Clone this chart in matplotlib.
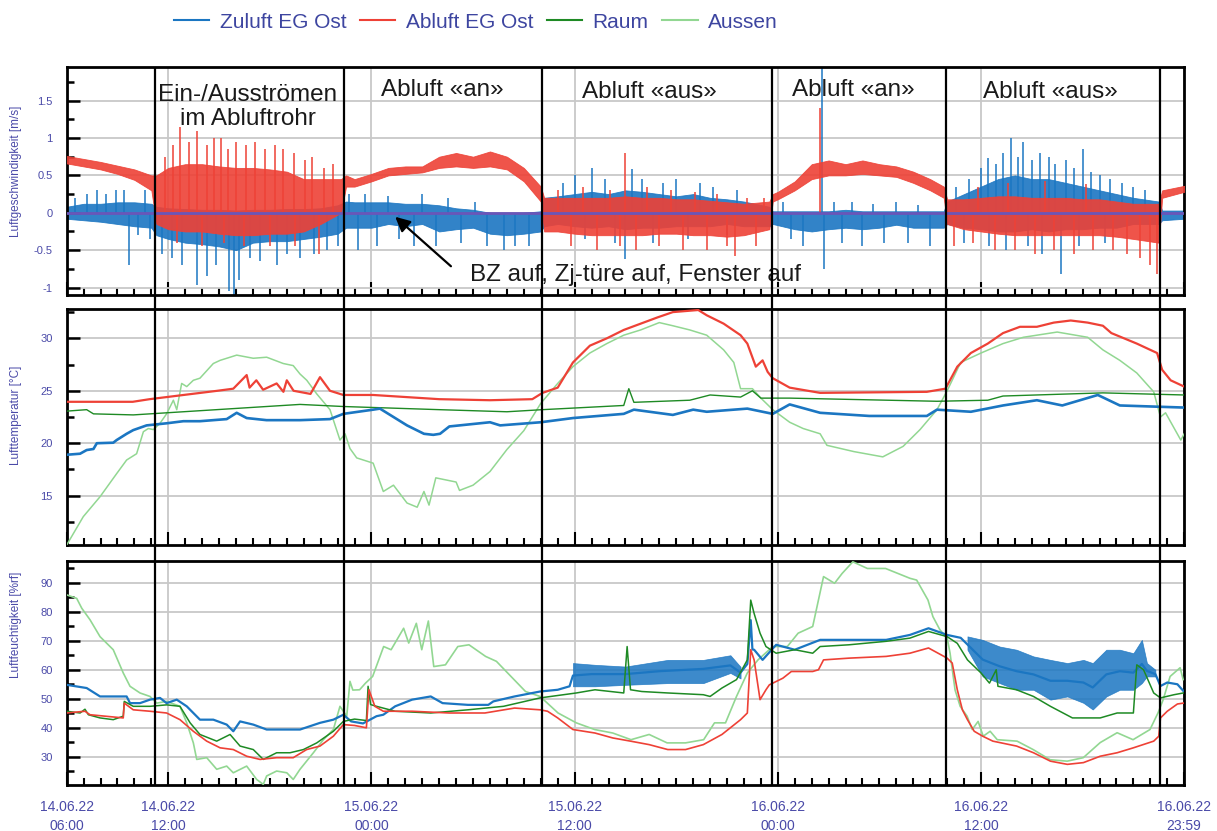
import numpy as np
import pandas as pd
import matplotlib
matplotlib.use("Agg")
import matplotlib.pyplot as plt
import matplotlib.dates as mdates
from matplotlib.lines import Line2D
from matplotlib.ticker import MultipleLocator, FuncFormatter

# time axis: hours after 14.06.22 06:00
START = pd.Timestamp("2022-06-14 06:00")
END = pd.Timestamp("2022-06-16 23:59")

series_names = ["Zuluft EG Ost", "Abluft EG Ost", "Raum", "Aussen"]
phase_changes = ["2022-06-14 11:14", "2022-06-14 22:24", "2022-06-15 10:05",
                 "2022-06-15 23:38", "2022-06-16 09:56", "2022-06-16 22:35"]
phase_labels = ["Ein-/Ausströmen\nim Abluftrohr", "Abluft «an»", "Abluft «aus»",
                "Abluft «an»", "Abluft «aus»"]
note_text = "BZ auf, Zj-türe auf, Fenster auf"

# air velocity [m/s]: (hour, low, high) of the dense part of the noisy signal
zuluft_v = [(0, -0.08, 0.08), (1, -0.1, 0.12), (2, -0.12, 0.12), (3, -0.15, 0.14), (4, -0.18, 0.14),
            (5, -0.2, 0.12), (5.3, -0.3, 0.08), (6, -0.35, 0.06), (7, -0.4, 0.05), (8, -0.42, 0.04),
            (9, -0.45, 0.04), (10, -0.5, 0.03), (11, -0.4, 0.04), (12, -0.38, 0.04), (13, -0.38, 0.05),
            (14, -0.35, 0.05), (15, -0.32, 0.06), (16, -0.28, 0.1), (16.5, -0.2, 0.15), (17, -0.2, 0.14),
            (18, -0.2, 0.14), (19, -0.15, 0.14), (20, -0.18, 0.12), (21, -0.15, 0.12), (22, -0.25, 0.1),
            (23, -0.22, 0.06), (24, -0.2, 0.04), (25, -0.28, 0.0), (26, -0.3, -0.02), (27, -0.28, 0.0),
            (28, -0.25, 0.02), (28.2, -0.18, 0.2), (29, -0.15, 0.22), (30, -0.18, 0.25), (31, -0.2, 0.28),
            (32, -0.18, 0.25), (33, -0.22, 0.3), (34, -0.2, 0.28), (35, -0.2, 0.25), (36, -0.18, 0.22),
            (37, -0.18, 0.25), (38, -0.18, 0.2), (39, -0.15, 0.18), (40, -0.18, 0.15), (41.5, -0.18, 0.08),
            (41.7, -0.15, 0.02), (43, -0.22, 0.02), (44, -0.25, 0.02), (45, -0.22, 0.02), (46, -0.2, 0.04),
            (47, -0.22, 0.02), (48, -0.2, 0.02), (49, -0.16, 0.02), (50, -0.2, 0.02), (51.8, -0.2, 0.02),
            (52, -0.15, 0.15), (53, -0.2, 0.25), (54, -0.22, 0.35), (55, -0.25, 0.45), (56, -0.25, 0.5),
            (57, -0.22, 0.45), (58, -0.25, 0.45), (59, -0.22, 0.4), (60, -0.22, 0.35), (61, -0.2, 0.3),
            (62, -0.2, 0.25), (63, -0.15, 0.2), (64.5, -0.15, 0.15), (64.7, -0.1, 0.03), (66, -0.08, 0.03)]
abluft_v = [(0, 0.66, 0.76), (1, 0.62, 0.72), (2, 0.58, 0.68), (3, 0.52, 0.63), (4, 0.44, 0.58),
            (5, 0.3, 0.5), (5.3, -0.15, 0.5), (6, -0.22, 0.6), (7, -0.25, 0.65), (8, -0.25, 0.65),
            (9, -0.28, 0.62), (10, -0.3, 0.6), (11, -0.3, 0.6), (12, -0.28, 0.58), (13, -0.28, 0.55),
            (14, -0.25, 0.45), (15, -0.15, 0.45), (16.2, 0.0, 0.45), (16.5, 0.35, 0.5), (17, 0.35, 0.45),
            (18, 0.42, 0.52), (19, 0.5, 0.6), (20, 0.52, 0.62), (21, 0.54, 0.62), (22, 0.6, 0.75),
            (23, 0.62, 0.8), (24, 0.6, 0.75), (25, 0.62, 0.82), (26, 0.58, 0.75), (27, 0.42, 0.6),
            (28, 0.15, 0.35), (28.2, -0.25, 0.2), (29, -0.25, 0.2), (30, -0.28, 0.2), (31, -0.3, 0.2),
            (32, -0.3, 0.2), (33, -0.3, 0.22), (34, -0.3, 0.2), (35, -0.28, 0.2), (36, -0.28, 0.18),
            (37, -0.3, 0.18), (38, -0.3, 0.16), (39, -0.32, 0.14), (40, -0.3, 0.12), (41.5, -0.22, 0.15),
            (41.7, 0.15, 0.25), (42, 0.18, 0.28), (43, 0.3, 0.42), (44, 0.45, 0.65), (45, 0.5, 0.7),
            (46, 0.5, 0.65), (47, 0.52, 0.7), (48, 0.5, 0.65), (49, 0.48, 0.62), (50, 0.4, 0.55),
            (51, 0.3, 0.45), (51.8, 0.2, 0.35), (52, -0.15, 0.18), (53, -0.22, 0.18), (54, -0.25, 0.2),
            (55, -0.28, 0.22), (56, -0.3, 0.22), (57, -0.3, 0.2), (58, -0.3, 0.2), (59, -0.3, 0.2),
            (60, -0.3, 0.18), (61, -0.3, 0.18), (62, -0.32, 0.15), (63, -0.35, 0.12), (64.5, -0.4, 0.12),
            (64.7, 0.2, 0.3), (66, 0.28, 0.36)]
# single peaks reaching beyond the dense part: (hour, value)
zuluft_v_peaks = [(0.5, 0.2), (1.2, 0.25), (1.8, 0.3), (2.3, 0.25), (2.9, 0.3), (3.4, 0.3), (3.7, -0.7),
                  (4.2, -0.3), (4.6, 0.3), (4.9, -0.35),
                  (5.6, -0.55), (6.2, -0.6), (6.8, -0.7), (7.7, -0.96), (8.3, -0.85), (8.8, -0.7),
                  (9.6, -1.05), (9.9, -1.15), (10.2, -0.9), (10.8, -0.6), (11.4, -0.65), (12.4, -0.7),
                  (13.0, -0.55), (13.8, -0.6), (14.6, -0.55), (15.4, -0.5), (16.0, -0.45),
                  (16.7, 0.25), (17.2, -0.5), (17.6, 0.25), (18.3, -0.45), (19.0, 0.22), (19.6, -0.35),
                  (20.5, -0.45), (21.0, 0.25), (21.8, -0.45), (22.5, 0.2), (23.3, -0.4), (24.1, 0.15),
                  (24.8, -0.45), (25.8, -0.5), (26.5, -0.45), (27.3, -0.45),
                  (29.3, 0.4), (30.0, 0.5), (30.6, -0.35), (31.0, 0.6), (31.8, 0.45), (32.4, -0.4),
                  (33.0, -0.62), (33.4, 0.58), (34.0, 0.45), (34.6, -0.4), (35.2, 0.4), (36.0, 0.45),
                  (36.7, -0.35), (37.4, 0.4), (38.2, 0.35), (39.0, -0.3), (39.6, 0.3),
                  (42.3, 0.15), (42.8, -0.35), (43.5, -0.45), (44.6, 2.0), (44.75, -0.75), (45.3, 0.15),
                  (45.8, -0.4), (46.4, 0.15), (47.0, -0.45), (47.6, 0.12), (48.3, -0.4), (49.0, 0.15),
                  (49.7, -0.4), (50.3, 0.1), (51.0, -0.45),
                  (52.5, 0.35), (53.0, -0.4), (53.3, 0.45), (54.0, 0.6), (54.4, 0.73), (54.5, -0.45),
                  (54.9, 0.65), (55.3, 0.8), (55.5, -0.5), (55.8, 1.0), (56.2, 0.75), (56.5, 0.95),
                  (56.8, -0.45), (57.0, 0.7), (57.5, 0.8), (57.6, -0.55), (58.0, 0.75), (58.4, 0.65),
                  (58.7, -0.82), (59.0, 0.7), (59.5, 0.6), (59.8, -0.45), (60.0, 0.85), (60.5, 0.55),
                  (61.0, 0.5), (61.3, -0.4), (61.6, 0.45), (62.3, 0.4), (63.0, 0.35), (63.7, 0.3)]
abluft_v_peaks = [(5.8, 0.75), (6.3, 0.9), (6.5, -0.4), (6.7, 1.15), (7.2, 0.95), (7.7, 1.1), (8.0, -0.45),
                  (8.3, 0.9), (8.7, 1.0), (9.1, 1.0), (9.3, -0.4), (9.5, 0.85), (10.0, 0.95), (10.5, -0.45),
                  (10.6, 0.9), (11.1, 0.95), (11.7, 0.85), (12.0, -0.45), (12.3, 0.9), (12.8, 0.85),
                  (13.4, 0.8), (13.5, -0.45), (14.1, 0.7), (14.5, 0.75), (14.9, -0.55), (15.2, 0.6),
                  (15.7, 0.65),
                  (29.0, 0.3), (29.8, -0.45), (30.5, 0.35), (31.3, -0.5), (32.1, 0.3), (32.7, -0.45),
                  (33.0, 0.8), (33.6, -0.5), (34.3, 0.35), (35.0, -0.45), (35.7, 0.3), (36.4, -0.5),
                  (37.1, 0.28), (37.8, -0.5), (38.4, 0.25), (39.0, -0.45), (39.5, -0.58), (40.2, 0.2),
                  (40.7, -0.45), (41.2, 0.2),
                  (44.5, 1.4),
                  (52.4, -0.45), (53.5, -0.4), (53.8, 0.35), (54.8, -0.5), (55.6, 0.4), (56.0, -0.5),
                  (57.2, -0.55), (57.8, 0.42), (58.3, -0.5), (59.5, -0.55), (60.2, 0.38), (60.6, -0.5),
                  (61.8, -0.5), (62.6, -0.55), (63.4, -0.6), (64.0, -0.7), (64.4, -0.82)]

# air temperature [°C]: (hour, value)
zuluft_t = [(0, 18.9), (0.79, 19.0), (1.18, 19.35), (1.58, 19.45), (1.78, 20.0), (2.75, 20.05), (2.95, 20.3),
            (3.54, 20.9), (3.93, 21.25), (4.72, 21.7), (5.9, 21.9), (6.89, 22.1), (7.87, 22.1), (9.45, 22.3),
            (10.04, 22.9), (10.63, 22.4), (11.8, 22.2), (13.78, 22.2), (15.55, 22.3), (16.34, 22.8),
            (18.1, 23.2), (18.5, 23.3), (20.1, 21.7), (21.1, 20.9), (21.65, 20.8), (22.05, 20.9),
            (22.6, 21.6), (25.0, 22.0), (25.6, 21.7), (28.0, 22.0), (29.9, 22.4), (32.9, 22.8),
            (33.5, 23.2), (35.8, 22.7), (37.0, 23.2), (37.8, 23.0), (40.2, 23.3), (41.7, 22.8),
            (42.7, 23.7), (44.5, 22.9), (47.4, 22.6), (50.8, 22.6), (51.4, 23.2), (53.4, 23.0),
            (55.3, 23.6), (57.3, 24.1), (58.8, 23.6), (60.9, 24.6), (62.2, 23.6), (66.0, 23.4)]
abluft_t = [(0, 23.95), (3.9, 23.95), (4.9, 24.2), (5.9, 24.4), (6.9, 24.6), (7.9, 24.8), (8.9, 25.0),
            (9.84, 25.2), (10.63, 26.5), (10.8, 25.3), (11.2, 26.0), (11.6, 25.1), (12.4, 25.7),
            (12.8, 24.9), (13.0, 26.0), (13.4, 25.0), (14.4, 24.7), (14.96, 26.3), (15.55, 25.0),
            (16.34, 24.6), (18.1, 24.6), (22.0, 24.2), (25.0, 24.1), (27.5, 24.2), (28.1, 24.8),
            (29.0, 25.3), (29.9, 27.7), (30.9, 29.3), (31.9, 30.0), (32.9, 30.8), (33.9, 31.4),
            (34.9, 32.0), (35.8, 32.5), (37.3, 32.7), (37.8, 32.2), (38.8, 31.4), (39.8, 30.3),
            (40.2, 29.5), (40.7, 27.3), (41.1, 27.9), (41.4, 26.8), (41.7, 26.2), (42.7, 25.3),
            (44.5, 24.8), (50.8, 24.9), (51.9, 25.2), (52.6, 27.3), (53.4, 28.6), (54.4, 29.5),
            (55.3, 30.5), (56.3, 31.1), (57.3, 31.1), (58.3, 31.5), (59.3, 31.7), (60.3, 31.5),
            (61.2, 31.2), (61.7, 30.5), (63.2, 29.5), (64.4, 28.6), (64.7, 27.0), (65.2, 26.0), (66.0, 25.4)]
raum_t = [(0, 23.06), (1.18, 23.2), (1.58, 22.8), (3.93, 22.7), (7.87, 23.1), (11.8, 23.5), (13.78, 23.7),
          (16.34, 23.5), (22.0, 23.2), (26.0, 23.0), (28.1, 23.2), (32.9, 23.6), (33.2, 25.2), (33.5, 23.9),
          (36.8, 24.1), (38.0, 24.6), (39.8, 24.4), (40.5, 25.0), (41.0, 24.3), (42.7, 24.3), (51.4, 24.0),
          (54.4, 24.1), (55.3, 24.5), (61.2, 24.8), (66.0, 24.6)]
aussen_t = [(0, 10.3), (0.98, 13.0), (1.97, 14.9), (2.95, 17.1), (3.54, 18.4), (4.13, 19.0), (4.53, 21.1),
            (4.82, 21.4), (5.12, 21.3), (5.51, 21.9), (5.9, 22.8), (6.3, 24.1), (6.5, 23.2), (6.79, 25.7),
            (7.09, 25.4), (7.48, 26.0), (7.87, 26.2), (8.66, 27.6), (9.06, 27.9), (9.65, 28.2), (10.04, 28.4),
            (11.02, 28.1), (11.81, 28.2), (12.79, 27.6), (13.38, 27.4), (13.78, 26.6), (14.18, 26.0),
            (14.77, 24.7), (15.55, 23.2), (16.14, 20.3), (16.44, 20.9), (16.73, 19.5), (17.13, 18.6),
            (18.1, 18.1), (18.7, 15.4), (19.3, 16.0), (20.1, 14.3), (20.7, 13.9), (21.1, 15.4), (21.4, 14.1),
            (21.8, 16.7), (23.0, 16.3), (23.2, 15.5), (24.0, 16.0), (25.0, 17.3), (26.0, 19.4), (27.0, 21.2),
            (28.0, 23.8), (29.0, 25.7), (29.9, 27.3), (30.9, 28.6), (31.9, 29.5), (32.9, 30.3), (33.9, 30.8),
            (35.0, 31.5), (35.8, 31.2), (36.8, 30.8), (37.8, 30.3), (38.8, 28.9), (39.4, 27.7), (39.8, 25.2),
            (40.5, 25.2), (41.0, 24.3), (41.7, 23.2), (42.7, 22.0), (43.5, 21.4), (44.5, 20.9), (44.9, 19.8),
            (46.5, 19.2), (48.2, 18.7), (49.4, 19.7), (50.4, 21.3), (51.4, 23.2), (52.0, 25.0), (52.8, 27.7),
            (54.0, 28.6), (55.3, 29.5), (56.5, 30.1), (58.5, 30.6), (60.3, 30.1), (61.2, 28.9), (62.2, 27.9),
            (63.2, 26.7), (64.2, 24.9), (64.6, 22.5), (64.9, 22.9), (65.8, 20.3), (66.0, 20.9)]

# relative humidity [%rF]: (hour, value)
zuluft_rh = [(0, 54.8), (1.18, 53.7), (1.97, 50.8), (3.54, 50.8), (3.74, 48.5), (4.33, 48.5), (4.92, 49.7),
             (5.51, 50.3), (5.9, 48.5), (6.5, 49.7), (7.09, 47.4), (7.48, 45.1), (7.87, 42.8), (8.66, 42.8),
             (9.45, 41.1), (9.84, 38.8), (10.24, 42.2), (11.02, 41.1), (11.81, 39.4), (13.78, 39.4),
             (14.96, 41.7), (15.75, 42.8), (16.34, 44.5), (16.8, 42.2), (17.5, 41.5), (18.3, 44.0),
             (18.7, 44.5), (19.4, 47.4), (20.4, 49.7), (21.5, 50.8), (22.2, 48.5), (23.7, 47.9), (24.9, 47.9),
             (25.2, 49.1), (26.45, 50.8), (27.96, 52.5), (29.0, 53.1), (29.7, 54.3), (29.9, 58.0),
             (31.0, 58.5), (33.0, 58.5), (35.0, 59.5), (37.6, 60.3), (39.2, 61.5), (39.8, 59.0), (40.2, 62.0),
             (40.4, 77.1), (40.5, 67.0), (40.6, 66.9), (41.1, 63.4), (41.9, 68.6), (43.0, 66.9), (44.5, 70.3),
             (46.2, 70.3), (48.4, 70.3), (49.8, 72.0), (50.9, 74.3), (52.0, 72.0), (52.8, 71.0), (53.2, 68.7),
             (54.1, 63.5), (55.1, 61.2), (56.1, 59.5), (57.1, 58.4), (58.1, 56.2), (59.1, 56.2), (60.05, 55.6),
             (60.6, 53.9), (61.4, 58.4), (62.2, 59.5), (63.0, 59.0), (63.5, 62.0), (63.8, 59.6), (64.3, 58.5),
             (64.6, 54.4), (65.0, 55.6), (65.6, 55.0), (65.95, 52.7)]
# noisy stretches of the Zuluft humidity: (hour, low, high)
zuluft_rh_band = [(29.9, 54.3, 62.3), (31.2, 54.3, 61.7), (33.0, 54.8, 61.1), (35.5, 55.4, 63.4),
                  (37.6, 55.4, 63.4), (39.2, 58.9, 65.0), (39.8, 57.0, 61.0)]
zuluft_rh_band2 = [(53.2, 66.9, 71.5), (54.1, 57.7, 70.3), (55.1, 55.4, 68.0), (56.1, 53.1, 66.9),
                   (57.1, 53.1, 64.6), (58.1, 49.7, 63.4), (59.1, 50.8, 62.3), (60.05, 48.6, 63.4),
                   (60.6, 46.3, 62.3), (61.4, 50.8, 66.9), (62.2, 53.1, 66.9), (63.0, 53.1, 65.7),
                   (63.5, 55.4, 70.3), (63.8, 57.7, 62.3), (64.3, 57.7, 60.0)]
abluft_rh = [(0, 45.1), (1.08, 45.7), (1.38, 44.5), (3.34, 43.4), (3.4, 48.5), (3.93, 46.2), (4.92, 45.7),
             (5.9, 45.1), (6.69, 42.8), (7.48, 38.8), (8.27, 35.4), (9.06, 33.1), (9.84, 32.5), (10.63, 30.2),
             (11.42, 29.1), (12.4, 29.7), (13.38, 29.7), (14.17, 32.5), (14.96, 33.7), (15.75, 37.1),
             (16.34, 41.1), (17.0, 40.8), (17.7, 40.0), (17.85, 53.1), (18.2, 47.4), (18.7, 45.7),
             (20.4, 45.7), (22.6, 45.1), (24.7, 45.1), (26.45, 46.8), (27.96, 46.2), (28.4, 45.7),
             (29.0, 43.4), (29.9, 39.4), (31.2, 38.2), (32.25, 36.5), (33.3, 35.4), (34.4, 34.2),
             (35.5, 32.5), (36.55, 32.5), (37.6, 34.2), (38.7, 37.7), (39.8, 42.8), (40.2, 45.1),
             (40.4, 66.9), (40.6, 63.4), (40.95, 49.7), (41.3, 53.1), (41.5, 54.8), (42.3, 57.1),
             (42.8, 59.4), (44.06, 59.4), (44.4, 60.0), (44.7, 63.4), (46.2, 64.0), (48.4, 64.6),
             (49.8, 65.7), (50.9, 67.5), (52.0, 64.0), (52.3, 62.3), (52.6, 53.1), (52.9, 46.2),
             (53.2, 42.8), (53.6, 38.8), (54.1, 37.1), (54.7, 35.4), (56.1, 33.7), (57.1, 31.4),
             (58.1, 28.5), (59.1, 27.4), (60.05, 28.0), (61.04, 30.2), (62.04, 31.4), (63.0, 33.1),
             (64.2, 35.4), (64.5, 37.1), (64.6, 43.4), (65.0, 45.7), (65.6, 48.2), (65.95, 48.5)]
raum_rh = [(0, 45.7), (0.79, 45.1), (1.08, 46.4), (1.28, 44.5), (1.97, 43.4), (2.75, 42.8), (3.34, 44.0),
           (3.4, 49.1), (3.93, 47.4), (4.92, 47.4), (5.9, 47.9), (6.69, 47.4), (7.29, 41.7), (7.87, 37.7),
           (8.86, 35.4), (9.65, 37.7), (10.24, 33.7), (11.02, 32.5), (11.61, 29.1), (12.4, 31.4),
           (13.19, 31.4), (13.98, 32.5), (14.77, 34.8), (15.75, 38.8), (16.34, 42.2), (17.0, 43.0),
           (17.7, 42.5), (17.8, 54.3), (17.95, 48.0), (18.3, 47.4), (19.4, 45.7), (21.5, 45.1), (23.7, 46.2),
           (25.8, 47.4), (27.96, 50.3), (30.1, 52.0), (31.2, 53.1), (32.9, 52.0), (33.1, 68.0), (33.3, 53.1),
           (33.97, 52.5), (35.5, 52.0), (37.6, 51.4), (38.0, 50.8), (38.7, 53.7), (39.56, 56.6), (40.2, 63.4),
           (40.4, 84.0), (40.6, 79.4), (40.95, 72.6), (41.3, 68.0), (41.9, 65.7), (43.0, 66.9), (44.06, 65.7),
           (44.5, 68.0), (46.2, 68.6), (48.4, 69.8), (49.8, 70.9), (50.9, 73.2), (52.0, 71.4), (52.6, 69.1),
           (53.2, 63.4), (54.0, 58.9), (54.5, 55.4), (54.9, 60.0), (55.0, 54.3), (56.1, 53.1), (57.1, 50.8),
           (58.1, 47.4), (59.4, 43.4), (61.04, 43.4), (62.04, 45.1), (63.0, 45.1), (63.2, 61.7), (63.6, 60.0),
           (64.2, 52.0), (64.6, 50.3), (65.4, 51.4), (65.95, 52.0)]
aussen_rh = [(0, 85.8), (0.59, 84.6), (0.89, 81.2), (1.38, 77.2), (1.97, 71.4), (2.75, 66.9), (3.34, 58.9),
             (3.74, 54.3), (4.33, 52.0), (4.92, 50.8), (5.32, 48.5), (5.9, 49.1), (6.69, 47.4), (7.09, 41.7),
             (7.48, 34.8), (7.68, 29.1), (8.27, 29.7), (8.86, 25.7), (9.45, 26.8), (9.84, 24.5), (10.63, 26.8),
             (11.22, 22.2), (11.61, 20.5), (11.81, 23.4), (12.4, 25.1), (13.0, 24.5), (13.38, 22.2),
             (13.78, 25.7), (14.57, 31.4), (15.16, 35.9), (15.75, 39.4), (16.14, 47.4), (16.54, 44.0),
             (16.73, 56.0), (16.9, 53.0), (17.3, 53.1), (17.65, 55.4), (18.07, 57.7), (18.72, 68.0),
             (19.16, 66.9), (19.9, 74.3), (20.2, 69.2), (20.65, 76.0), (20.97, 66.9), (21.36, 76.8),
             (21.68, 61.1), (22.37, 61.7), (23.1, 68.0), (23.76, 68.6), (24.74, 64.6), (25.38, 62.9),
             (26.24, 57.7), (27.1, 52.5), (27.96, 50.8), (29.02, 45.1), (30.1, 41.7), (31.18, 39.4),
             (32.25, 38.2), (33.33, 35.9), (34.4, 37.7), (35.46, 34.8), (36.55, 34.8), (37.62, 35.9),
             (38.26, 41.7), (38.91, 41.7), (39.56, 50.8), (40.2, 58.9), (40.83, 63.4), (41.7, 68.0),
             (42.56, 68.0), (43.2, 72.6), (44.06, 74.9), (44.7, 92.1), (45.35, 89.8), (45.8, 93.2),
             (46.43, 97.2), (47.29, 94.9), (48.36, 94.9), (49.81, 91.5), (50.2, 90.9), (50.87, 84.0),
             (51.16, 78.3), (51.58, 73.7), (52.0, 71.0), (52.17, 65.8), (52.47, 53.0), (52.77, 47.4),
             (53.18, 44.0), (53.48, 39.4), (53.83, 42.2), (54.13, 37.1), (54.54, 38.8), (54.96, 35.9),
             (56.13, 35.4), (57.08, 32.5), (58.08, 29.0), (59.09, 28.5), (60.04, 29.7), (61.04, 34.9),
             (62.04, 38.3), (62.98, 35.9), (63.98, 39.4), (64.46, 45.2), (64.76, 49.7), (65.17, 57.7),
             (65.76, 60.7), (65.94, 56.6)]

C_ZU, C_AB, C_RAUM, C_AUS = "#1b76c2", "#ee4136", "#1e8a24", "#92d792"
C_TXT = "#4a4aa8"
C_GRID = "#c8c8c8"

plt.rcParams["font.family"] = ["Liberation Sans", "DejaVu Sans"]
plt.rcParams["axes.unicode_minus"] = False


def hours(h):
    return (START + pd.to_timedelta(np.asarray(h, dtype=float), unit="h")).to_numpy()


def xy(pairs):
    arr = np.array(pairs, dtype=float)
    return hours(arr[:, 0]), arr[:, 1]


def band(triples):
    arr = np.array(triples, dtype=float)
    return hours(arr[:, 0]), arr[:, 1], arr[:, 2]


def style(ax, ylim, major, minor, label, label_y, show_x):
    ax.set_xlim(START, END)
    ax.set_ylim(*ylim)
    for sp in ax.spines.values():
        sp.set_linewidth(2)
        sp.set_color("black")
    ax.yaxis.set_major_locator(MultipleLocator(major))
    ax.yaxis.set_minor_locator(MultipleLocator(minor))
    ax.yaxis.set_major_formatter(FuncFormatter(lambda v, p: f"{v:g}"))
    ticks_12h = [START] + list(pd.date_range("2022-06-14 12:00", periods=5, freq="12h")) + [END]
    ax.set_xticks(ticks_12h)
    ax.xaxis.set_minor_locator(mdates.HourLocator(interval=1))
    ax.xaxis.set_major_formatter(mdates.DateFormatter("%d.%m.%y\n%H:%M"))
    ax.grid(True, which="major", color=C_GRID, lw=1.3, zorder=0)
    ax.set_axisbelow(True)
    ax.tick_params(axis="y", which="major", direction="in", length=9.5, width=1.8,
                   labelsize=8, labelcolor=C_TXT, pad=10)
    ax.tick_params(axis="y", which="minor", direction="in", length=5, width=1.8)
    ax.tick_params(axis="x", which="major", direction="in", length=9.5, width=1.5,
                   labelsize=10, labelcolor=C_TXT, pad=11, labelbottom=show_x)
    ax.tick_params(axis="x", which="minor", direction="in", length=5, width=1.5)
    for t in ax.get_xticklabels():
        t.set_linespacing(1.45)
    ax.set_ylabel(label, fontsize=8.5, color=C_TXT)
    ax.yaxis.set_label_coords(-0.040, label_y)


fig = plt.figure(figsize=(12.17, 8.31), dpi=100)
L, W = 0.0548, 0.918
ax_v = fig.add_axes([L, 0.645, W, 0.2744])
ax_t = fig.add_axes([L, 0.3442, W, 0.284])
ax_h = fig.add_axes([L, 0.0554, W, 0.2696])

# --- air velocity
style(ax_v, (-1.1, 1.95), 0.5, 0.25, "Luftgeschwindigkeit [m/s]", 0.544, False)
tz, lo, hi = band(zuluft_v)
ax_v.fill_between(tz, lo, hi, color=C_ZU, lw=0.6, alpha=0.9, zorder=2)
tp, vp = xy(zuluft_v_peaks)
ax_v.vlines(tp, 0, vp, color=C_ZU, lw=1.1, zorder=2)
ta, lo, hi = band(abluft_v)
ax_v.fill_between(ta, lo, hi, color=C_AB, lw=0.6, alpha=0.9, zorder=3)
tp, vp = xy(abluft_v_peaks)
ax_v.vlines(tp, 0, vp, color=C_AB, lw=1.1, zorder=3)
ax_v.axhline(0, color="#6a56b8", lw=2, zorder=4)

ax_v.text(0.1623, 0.8246, phase_labels[0], transform=ax_v.transAxes, ha="center", va="center",
          fontsize=17.5, color="#1a1a1a", linespacing=1.1, zorder=6)
for (xf, yf), s in zip([(0.3363, 0.899), (0.522, 0.890), (0.7038, 0.899), (0.8801, 0.890)], phase_labels[1:]):
    ax_v.text(xf, yf, s, transform=ax_v.transAxes, ha="center", va="center",
              fontsize=17.5, color="#1a1a1a", zorder=6)
ax_v.annotate("", xy=(0.2922, 0.351), xytext=(0.3458, 0.118), xycoords="axes fraction",
              textcoords="axes fraction",
              arrowprops=dict(arrowstyle="-|>", color="black", lw=1.6, mutation_scale=22), zorder=6)
ax_v.text(0.361, 0.088, note_text, transform=ax_v.transAxes, ha="left", va="center",
          fontsize=17.5, color="#1a1a1a", zorder=6)

# --- air temperature
style(ax_t, (10.3, 32.8), 5, 2.5, "Lufttemperatur [°C]", 0.551, False)
for data, c, lw in [(aussen_t, C_AUS, 1.1), (raum_t, C_RAUM, 1.0), (abluft_t, C_AB, 1.6), (zuluft_t, C_ZU, 1.9)]:
    tt, vv = xy(data)
    ax_t.plot(tt, vv, color=c, lw=lw, zorder=3)

# --- relative humidity
style(ax_h, (20.3, 97.5), 10, 5, "Luftfeuchtigkeit [%rf]", 0.7165, True)
tt, vv = xy(aussen_rh)
ax_h.plot(tt, vv, color=C_AUS, lw=1.2, zorder=3)
for b in (zuluft_rh_band, zuluft_rh_band2):
    tb, lo, hi = band(b)
    ax_h.fill_between(tb, lo, hi, color=C_ZU, lw=0.5, alpha=0.85, zorder=3)
tt, vv = xy(zuluft_rh)
ax_h.plot(tt, vv, color=C_ZU, lw=1.6, zorder=3)
tt, vv = xy(raum_rh)
ax_h.plot(tt, vv, color=C_RAUM, lw=1.1, zorder=4)
tt, vv = xy(abluft_rh)
ax_h.plot(tt, vv, color=C_AB, lw=1.2, zorder=4)

# phase separators running through all three panels
ax_o = fig.add_axes([L, 0.0554, W, 0.864])
ax_o.set_xlim(START, END)
ax_o.set_ylim(0, 1)
ax_o.axis("off")
for s in phase_changes:
    ax_o.axvline(pd.Timestamp(s), color="black", lw=1.6)

handles = [Line2D([], [], color=c, lw=1.5) for c in (C_ZU, C_AB, C_RAUM, C_AUS)]
fig.legend(handles, series_names, loc="center", bbox_to_anchor=(0.391, 0.9735), ncol=4,
           frameon=False, fontsize=15, handlelength=1.7, handletextpad=0.5, columnspacing=0.65,
           labelcolor="#3d45a0")

fig.savefig("out.png", dpi=100)
